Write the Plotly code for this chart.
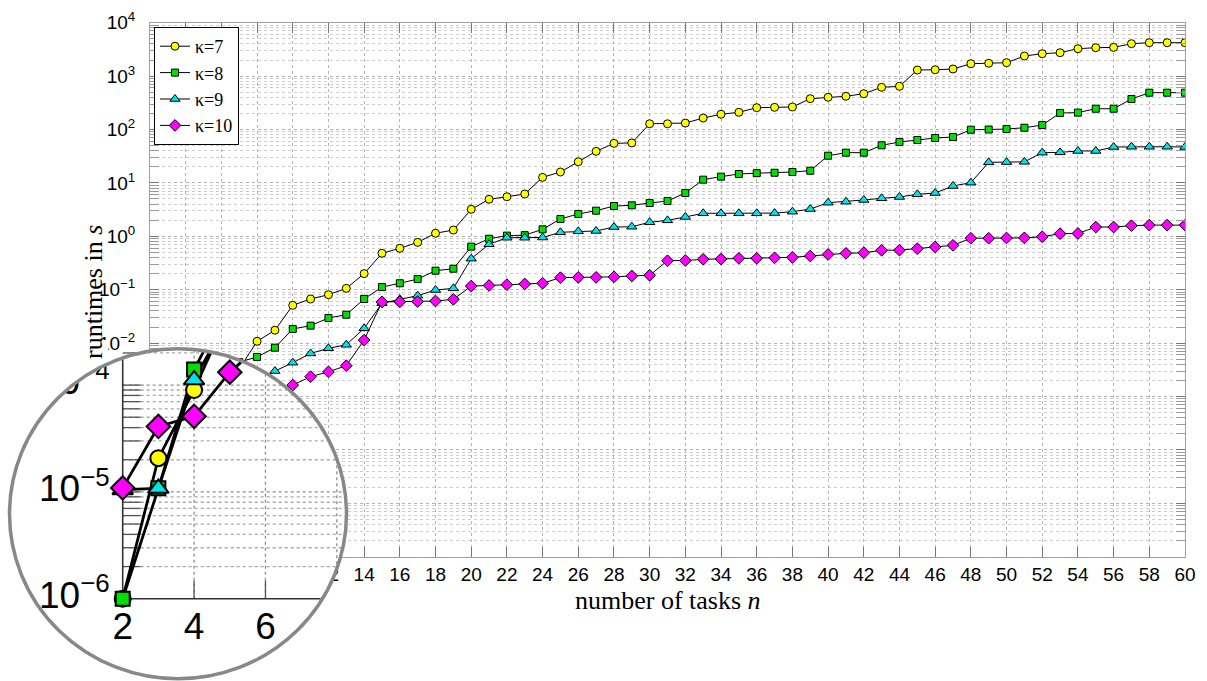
import numpy as np
import plotly.graph_objects as go

# ---------------- data ----------------
n_tasks = list(range(2, 61))
series_names = ["κ=7", "κ=8", "κ=9", "κ=10"]
runtime_k7 = [1e-6, 2.07e-5, 9.0e-5, 5.0e-4, 1.6e-3, 3.3e-3, 0.0108, 0.0174, 0.051,
              0.067, 0.0806, 0.106, 0.20, 0.481, 0.596, 0.77, 1.14, 1.31, 3.2,
              4.93, 5.5, 6.2, 12.7, 16.0, 24.9, 39, 55, 56, 128,
              128, 132, 164, 193, 210, 256, 260, 264, 378, 401,
              419, 468, 617, 644, 1300, 1313, 1358, 1708, 1740, 1782,
              2378, 2627, 2742, 3260, 3404, 3450, 4045, 4220, 4220, 4220]
runtime_k8 = [1e-6, 1.08e-5, 1.40e-4, 6e-4, 2.2e-3, 4.4e-3, 0.0055, 0.0082, 0.0184,
              0.0212, 0.0295, 0.034, 0.067, 0.112, 0.132, 0.158, 0.227, 0.247, 0.64,
              0.90, 1.03, 1.05, 1.35, 2.11, 2.62, 3.02, 3.69, 3.8, 4.2,
              4.58, 6.47, 11.5, 13.1, 14.7, 15.2, 15.5, 16.0, 16.9, 32.3,
              36.8, 36.8, 50.6, 58.3, 63.6, 69.3, 72.4, 99, 100, 102,
              108, 121, 204, 207, 245, 245, 373, 489, 489, 489]
runtime_k9 = [1.05e-5, 1.08e-5, 1.12e-4, 4.5e-4, 8e-4, 1.3e-3, 1.9e-3, 0.0030, 0.0043,
              0.0064, 0.0080, 0.0093, 0.0189, 0.0556, 0.066, 0.0773, 0.0986, 0.106, 0.381,
              0.708, 0.94, 0.94, 0.95, 1.19, 1.24, 1.26, 1.49, 1.51, 1.83,
              1.99, 2.30, 2.70, 2.70, 2.70, 2.70, 2.72, 2.89, 3.24, 4.26,
              4.45, 4.79, 5.15, 5.45, 6.12, 6.47, 8.75, 10.1, 24.3, 24.5,
              24.8, 36.8, 37.3, 39.6, 39.6, 47, 47.5, 47.5, 47.5, 47]
runtime_k10 = [1.09e-5, 4.1e-5, 5.1e-5, 1.32e-4, 2.6e-4, 4.5e-4, 7e-4, 1.06e-3, 0.00164,
               0.00235, 0.0029, 0.00378, 0.0114, 0.059, 0.0594, 0.060, 0.0614, 0.066, 0.117,
               0.12, 0.124, 0.128, 0.132, 0.168, 0.17, 0.17, 0.174, 0.181, 0.186,
               0.349, 0.352, 0.371, 0.375, 0.387, 0.387, 0.395, 0.404, 0.428, 0.457,
               0.48, 0.493, 0.547, 0.55, 0.586, 0.63, 0.678, 0.918, 0.92, 0.93,
               0.935, 0.98, 1.12, 1.13, 1.49, 1.49, 1.58, 1.62, 1.62, 1.62]
x_tick_step = 2
y_exponents = [-6, -5, -4, -3, -2, -1, 0, 1, 2, 3, 4]
y_tick_text = ["10<sup>%s</sup>" % (str(e).replace("-", "−")) for e in y_exponents]
y_tick_labels_inset = ["10<sup>−6</sup>", "10<sup>−5</sup>", "10<sup>−4</sup>"]
x_tick_labels_inset = ["2", "4", "6"]

series = [runtime_k7, runtime_k8, runtime_k9, runtime_k10]
colors = ["#ffff00", "#00e000", "#00e2ec", "#ff00ff"]
symbols = ["circle", "square", "triangle-up", "diamond"]
msize = [8, 7, 9, 9]

# ---------------- geometry ----------------
W, H = 1207, 681
PX0, PX1 = 150.0, 1185.0
PY0, PY1 = 22.7, 556.7
NMIN, NMAX = 2, 60
LMIN, LMAX = -6, 4
sx = (PX1 - PX0) / (NMAX - NMIN)
sy = (PY1 - PY0) / (LMAX - LMIN)
MAG = 2.0
MX, MY = 177.3, 514.7
ix2 = MX + MAG * (PX0 - MX)
iyb = MY + MAG * (PY1 - MY)
sx2, sy2 = MAG * sx, MAG * sy
EX, EY, EA, EB = 178.0, 513.8, 168.5, 165.0
DX0, DX1, DY0, DY1 = 0.0, 356.0, 341.0, 681.0


def n_of(px):
    return NMIN + (px - ix2) / sx2


def L_of(py):
    return LMIN + (iyb - py) / sy2


nc, Lc = n_of(EX), L_of(EY)
ea, eb = EA / sx2, EB / sy2
ea_c, eb_c = (EA - 1.5) / sx2, (EB - 1.5) / sy2


def clip_polyline(xs, ys):
    ox, oy = [], []
    for i in range(len(xs) - 1):
        x0, y0, x1, y1 = xs[i], ys[i], xs[i + 1], ys[i + 1]
        u0, v0 = (x0 - nc) / ea_c, (y0 - Lc) / eb_c
        u1, v1 = (x1 - nc) / ea_c, (y1 - Lc) / eb_c
        du, dv = u1 - u0, v1 - v0
        a = du * du + dv * dv
        b = 2 * (u0 * du + v0 * dv)
        c = u0 * u0 + v0 * v0 - 1
        disc = b * b - 4 * a * c
        if a == 0 or disc <= 0:
            continue
        s = disc ** 0.5
        t0 = max(0.0, (-b - s) / (2 * a))
        t1 = min(1.0, (-b + s) / (2 * a))
        if t0 >= t1:
            continue
        p0 = (x0 + (x1 - x0) * t0, y0 + (y1 - y0) * t0)
        p1 = (x0 + (x1 - x0) * t1, y0 + (y1 - y0) * t1)
        if ox and ox[-1] is not None and abs(ox[-1] - p0[0]) < 1e-9 and abs(oy[-1] - p0[1]) < 1e-9:
            ox.append(p1[0]); oy.append(p1[1])
        else:
            if ox:
                ox.append(None); oy.append(None)
            ox += [p0[0], p1[0]]; oy += [p0[1], p1[1]]
    return ox, oy


fig = go.Figure()

# main traces
for name, vals, col, sym, ms in zip(series_names, series, colors, symbols, msize):
    fig.add_trace(go.Scatter(
        x=n_tasks, y=vals, mode="lines+markers", name=name,
        line=dict(color="black", width=1),
        marker=dict(symbol=sym, size=ms, color=col, line=dict(color="black", width=1)),
        xaxis="x", yaxis="y"))

# inset (magnifier) traces: lines clipped to the lens, markers inside it
for vals in series:
    L = list(np.log10(vals))
    cx, cy = clip_polyline(n_tasks, L)
    fig.add_trace(go.Scatter(x=cx, y=cy, mode="lines", showlegend=False,
                             line=dict(color="black", width=2.8),
                             xaxis="x2", yaxis="y2", hoverinfo="skip"))
for vals, col, sym, ms in zip(series, colors, symbols, msize):
    L = np.log10(vals)
    keep = [i for i in range(len(n_tasks))
            if ((n_tasks[i] - nc) / ea) ** 2 + ((L[i] - Lc) / eb) ** 2 < 0.9]
    fig.add_trace(go.Scatter(
        x=[n_tasks[i] for i in keep], y=[L[i] for i in keep], mode="markers",
        showlegend=False,
        marker=dict(symbol=sym, size=ms * 2, color=col, line=dict(color="black", width=2)),
        xaxis="x2", yaxis="y2", hoverinfo="skip"))

# inset tick labels
lab_font = dict(family="Liberation Sans, Arial", size=37, color="black")
fig.add_trace(go.Scatter(
    x=[NMIN - 13 / sx2] * 3, y=[-6, -5, -4], mode="text", text=y_tick_labels_inset,
    textposition="middle left", textfont=lab_font, showlegend=False,
    xaxis="x2", yaxis="y2", hoverinfo="skip"))
fig.add_trace(go.Scatter(
    x=[2, 4, 6], y=[LMIN - 13 / sy2] * 3, mode="text", text=x_tick_labels_inset,
    textposition="bottom center", textfont=lab_font, showlegend=False,
    xaxis="x2", yaxis="y2", hoverinfo="skip"))

# ---------------- lens decorations ----------------
shapes = []
shapes.append(dict(type="circle", xref="x2", yref="y2", layer="below",
                   x0=nc - ea, x1=nc + ea, y0=Lc - eb, y1=Lc + eb,
                   fillcolor="white", line=dict(width=0)))


def add_line(x0, y0, x1, y1, color, width, dash="solid"):
    shapes.append(dict(type="line", xref="x2", yref="y2", layer="below",
                       x0=x0, y0=y0, x1=x1, y1=y1,
                       line=dict(color=color, width=width, dash=dash)))


# vertical grid lines
for k in range(4, 12, x_tick_step):
    u = (k - nc) / ea_c
    if abs(u) < 1:
        s = (1 - u * u) ** 0.5
        lo, hi = max(LMIN, Lc - eb_c * s), Lc + eb_c * s
        if lo < hi:
            add_line(k, lo, k, hi, "#8c8c8c", 1.3, "dot")
# horizontal grid lines (major and minor) with left-axis ticks
for e in range(-7, -2):
    for d in range(1, 10):
        Lv = e + np.log10(d)
        if Lv <= LMIN + 1e-9:
            continue
        v = (Lv - Lc) / eb_c
        if abs(v) >= 1:
            continue
        s = (1 - v * v) ** 0.5
        lo, hi = max(NMIN, nc - ea_c * s), nc + ea_c * s
        if lo < hi:
            add_line(lo, Lv, hi, Lv, "#8c8c8c" if d == 1 else "#a8a8a8", 1.3, "dot")
            add_line(NMIN, Lv, min(hi, NMIN + 18 / sx2), Lv, "#555555", 1.3)
# x ticks on bottom axis
for k in (4, 6):
    add_line(k, LMIN, k, LMIN + 18 / sy2, "#555555", 1.3)
# axis lines of the magnified view
v = (LMIN - Lc) / eb_c
s = (1 - v * v) ** 0.5
add_line(NMIN, LMIN, nc + ea_c * s, LMIN, "#333333", 1.6)
u = (NMIN - nc) / ea_c
s = (1 - u * u) ** 0.5
add_line(NMIN, LMIN, NMIN, Lc + eb_c * s, "#333333", 1.6)

# white mask for the clipped label in the top-left corner, outside the lens
pts = []
th1 = np.arccos((108 - EX) / (EA + 1))
for th in np.linspace(np.pi, th1, 40):
    pts.append((EX + (EA + 1) * np.cos(th), EY - (EB + 1) * np.sin(th)))
pts += [(108, DY0 - 1), (0, DY0 - 1), (0, EY)]
path = "M " + " L ".join(f"{px / W:.5f},{1 - py / H:.5f}" for px, py in pts) + " Z"
shapes.append(dict(type="path", xref="paper", yref="paper", layer="above", path=path,
                   fillcolor="white", line=dict(width=0)))
# lens rim
shapes.append(dict(type="circle", xref="x2", yref="y2", layer="above",
                   x0=nc - ea, x1=nc + ea, y0=Lc - eb, y1=Lc + eb,
                   line=dict(color="#888888", width=3.5)))

tick_font = dict(family="Liberation Sans, Arial", size=19, color="black")
title_font = dict(family="Liberation Serif, Times New Roman", size=26, color="black")
fig.update_layout(
    width=W, height=H, autosize=False,
    margin=dict(l=0, r=0, t=0, b=0, pad=0, autoexpand=False),
    paper_bgcolor="white", plot_bgcolor="rgba(0,0,0,0)",
    showlegend=True,
    legend=dict(x=154 / W, y=1 - 27 / H, xanchor="left", yanchor="top",
                bgcolor="white", bordercolor="black", borderwidth=1,
                font=dict(family="Liberation Serif, Times New Roman", size=18, color="black"),
                tracegroupgap=0),
    xaxis=dict(domain=[PX0 / W, PX1 / W], anchor="y", range=[NMIN, NMAX],
               tickmode="linear", tick0=NMIN, dtick=x_tick_step, automargin=False,
               ticks="inside", ticklen=10, tickcolor="#777777",
               showline=True, linecolor="#a0a0a0", linewidth=1, mirror="ticks",
               showgrid=True, gridcolor="#b4b4b4", griddash="dot", gridwidth=1,
               zeroline=False, tickfont=tick_font),
    yaxis=dict(domain=[1 - PY1 / H, 1 - PY0 / H], anchor="x", type="log",
               range=[LMIN, LMAX], tickmode="array",
               tickvals=[10.0 ** e for e in y_exponents], ticktext=y_tick_text,
               automargin=False, ticklabelstandoff=10,
               ticks="inside", ticklen=9, tickcolor="#777777",
               showline=True, linecolor="#a0a0a0", linewidth=1, mirror="ticks",
               showgrid=True, gridcolor="#b4b4b4", griddash="dot", gridwidth=1,
               minor=dict(dtick="D1", ticks="inside", ticklen=9, tickcolor="#9a9a9a",
                          showgrid=True, gridcolor="#cdcdcd", griddash="dot", gridwidth=1),
               zeroline=False, tickfont=tick_font),
    xaxis2=dict(domain=[DX0 / W, DX1 / W], anchor="y2", automargin=False,
                range=[n_of(DX0), n_of(DX1)], visible=False, fixedrange=True),
    yaxis2=dict(domain=[1 - DY1 / H, 1 - DY0 / H], anchor="x2", automargin=False,
                range=[L_of(DY1), L_of(DY0)], visible=False, fixedrange=True),
    shapes=shapes,
    annotations=[
        dict(text="number of tasks <i>n</i>", xref="paper", yref="paper",
             x=(PX0 + PX1) / 2 / W, y=1 - 600 / H, xanchor="center", yanchor="middle",
             showarrow=False, font=title_font),
        dict(text="runtimes in <i>s</i>", xref="paper", yref="paper",
             x=93 / W, y=1 - 292 / H, xanchor="center", yanchor="middle", textangle=-90,
             showarrow=False, font=title_font),
    ],
)

fig.write_html("out.html")
